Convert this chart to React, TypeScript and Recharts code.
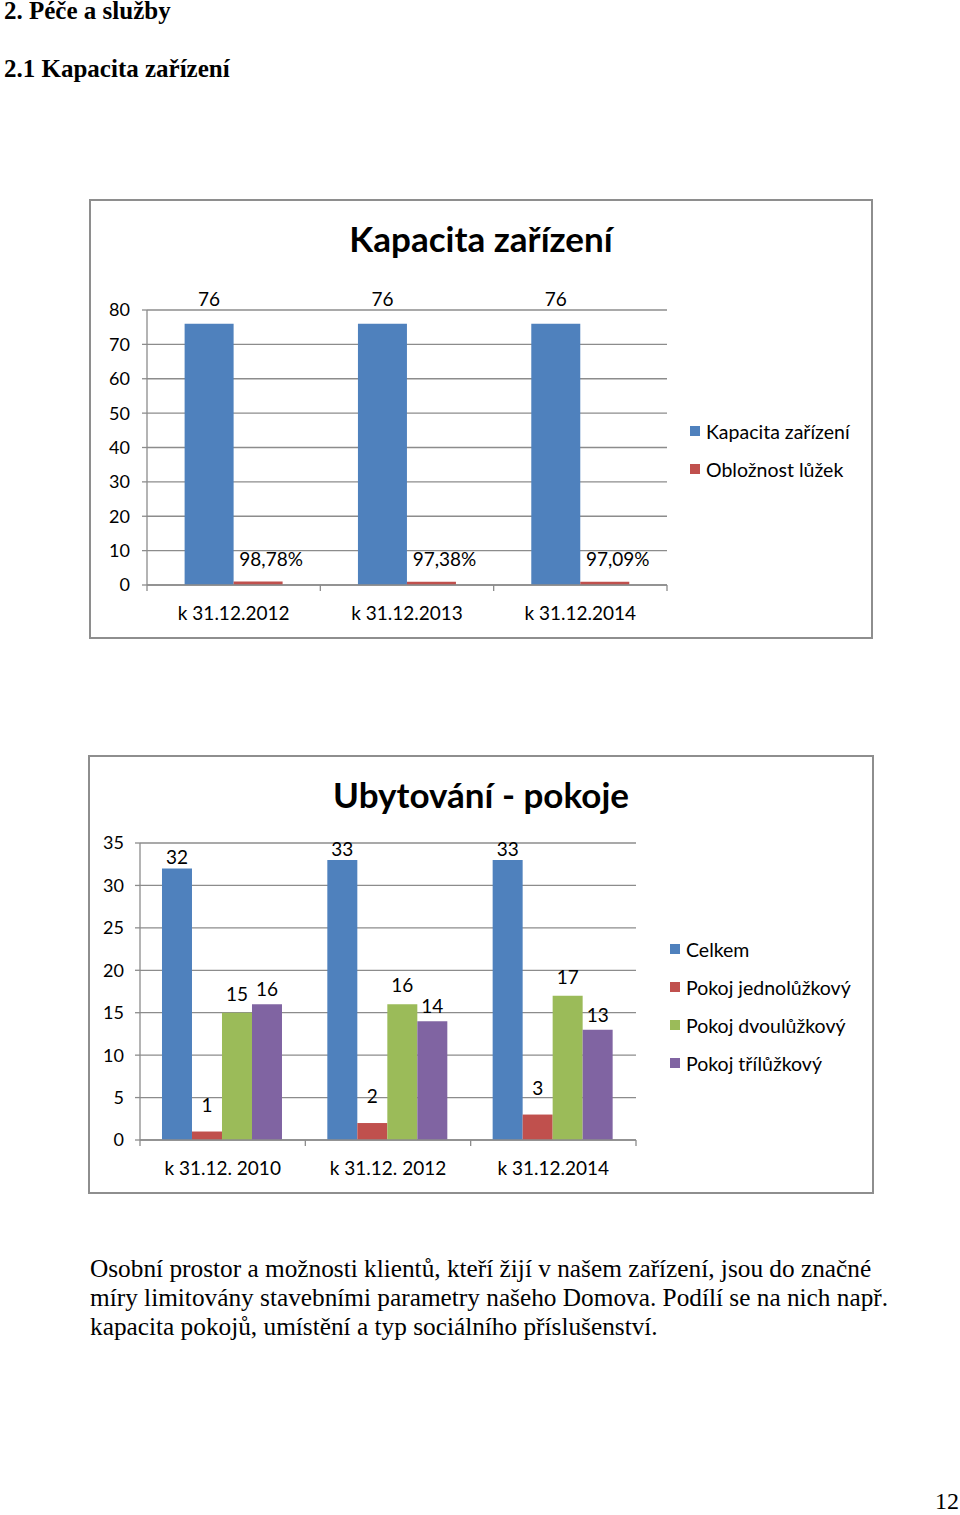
import React from "react";
import {
  BarChart,
  Bar,
  XAxis,
  YAxis,
  CartesianGrid,
  Legend,
  LabelList,
} from "recharts";

// --- Kapacita zařízení ---
const capacityDates = ["k 31.12.2012", "k 31.12.2013", "k 31.12.2014"];
const capacityBeds = [76, 76, 76];
const occupancy = [0.9878, 0.9738, 0.9709];
const capacityTicks = [0, 10, 20, 30, 40, 50, 60, 70, 80];
const capacitySeries = ["Kapacita zařízení", "Obložnost lůžek"];

// --- Ubytování - pokoje ---
const roomDates = ["k 31.12. 2010", "k 31.12. 2012", "k 31.12.2014"];
const roomsTotal = [32, 33, 33];
const roomsSingle = [1, 2, 3];
const roomsDouble = [15, 16, 17];
const roomsTriple = [16, 14, 13];
const roomTicks = [0, 5, 10, 15, 20, 25, 30, 35];
const roomSeries = ["Celkem", "Pokoj jednolůžkový", "Pokoj dvoulůžkový", "Pokoj třílůžkový"];

const capacityData = capacityDates.map((d, i) => ({
  date: d,
  capacity: capacityBeds[i],
  occupancy: occupancy[i],
}));

const roomData = roomDates.map((d, i) => ({
  date: d,
  total: roomsTotal[i],
  single: roomsSingle[i],
  double: roomsDouble[i],
  triple: roomsTriple[i],
}));

const BLUE = "#4f81bd";
const RED = "#c0504d";
const GREEN = "#9bbb59";
const PURPLE = "#8064a2";
const GRID = "#8c8c8c";
const FONT = "Lato, 'Open Sans', sans-serif";
const TXT = "#000";

const pct = (v: any) => (Number(v) * 100).toFixed(2).replace(".", ",") + "%";

// x tick label plus the little marks on the category boundaries
function CatTick(props: any) {
  const { x, y, payload, index, visibleTicksCount } = props;
  const half = payload && payload.offset ? payload.offset : 0;
  const top = y - 8;
  return (
    <g>
      <line x1={x - half} y1={top} x2={x - half} y2={top + 6} stroke={GRID} strokeWidth={1.3} />
      {index === visibleTicksCount - 1 && (
        <line x1={x + half} y1={top} x2={x + half} y2={top + 6} stroke={GRID} strokeWidth={1.3} />
      )}
      <text x={x} y={y + 27} textAnchor="middle" fontSize={19} fill={TXT} fontFamily={FONT}>
        {payload.value}
      </text>
    </g>
  );
}

// legend keeps the series order (recharts sorts by name otherwise)
function SideLegend(props: any) {
  const order: string[] = props.order || [];
  const items = [...(props.payload || [])].sort(
    (a: any, b: any) => order.indexOf(a.value) - order.indexOf(b.value),
  );
  return (
    <div style={{ fontFamily: FONT, fontSize: 19.5, color: TXT }}>
      {items.map((it: any) => (
        <div key={it.value} style={{ height: 38, display: "flex", alignItems: "center", whiteSpace: "nowrap" }}>
          <span style={{ width: 10, height: 10, background: it.color, marginRight: 6, display: "inline-block" }} />
          {it.value}
        </div>
      ))}
    </div>
  );
}

const tickStyle = { fontSize: 18, fill: TXT, fontFamily: FONT };
const labelStyle = { fontSize: 19, fill: TXT, fontFamily: FONT };

function ChartBox({ left, top, width, height, title }: any) {
  return (
    <>
      <div
        style={{
          position: "absolute",
          left: left - 1,
          top: top - 1,
          width: width - 2,
          height: height - 2,
          border: "2px solid #8e8e8e",
        }}
      />
      <div
        style={{
          position: "absolute",
          left,
          top: top + 17,
          width,
          textAlign: "center",
          fontFamily: FONT,
          fontWeight: 700,
          fontSize: 35,
          lineHeight: "42px",
          color: TXT,
        }}
      >
        {title}
      </div>
    </>
  );
}

export default function App() {
  return (
    <div
      style={{
        position: "absolute",
        left: 0,
        top: 0,
        width: 960,
        height: 1515,
        background: "#fff",
        fontFamily: "'Liberation Serif', 'Times New Roman', serif",
        color: TXT,
      }}
    >
      <div style={{ position: "absolute", left: 4, top: -3, fontWeight: 700, fontSize: 25 }}>
        2. Péče a služby
      </div>
      <div style={{ position: "absolute", left: 4, top: 55, fontWeight: 700, fontSize: 25 }}>
        2.1 Kapacita zařízení
      </div>

      {/* chart 1 */}
      <ChartBox left={90} top={200} width={782} height={438} title="Kapacita zařízení" />
      <div style={{ position: "absolute", left: 90, top: 200 }}>
        <BarChart
          width={782}
          height={438}
          data={capacityData}
          margin={{ top: 110, right: 205, bottom: 13, left: 0 }}
          barCategoryGap="21.7%"
          barGap={0}
        >
          <CartesianGrid vertical={false} stroke={GRID} strokeWidth={1.3} />
          <XAxis
            dataKey="date"
            height={40}
            tickLine={false}
            tickSize={6}
            tickMargin={2}
            axisLine={{ stroke: GRID, strokeWidth: 1.3 }}
            tick={<CatTick />}
            interval={0}
          />
          <YAxis
            width={57}
            domain={[0, 80]}
            ticks={capacityTicks}
            interval={0}
            tickSize={5}
            tickMargin={12}
            tick={tickStyle}
            tickLine={{ stroke: GRID, strokeWidth: 1.3 }}
            axisLine={{ stroke: GRID, strokeWidth: 1.3 }}
          />
          <Legend
            layout="horizontal"
            align="center"
            verticalAlign="middle"
            content={<SideLegend order={capacitySeries} />}
            wrapperStyle={{ left: 600, top: 212, width: "auto" }}
          />
          <Bar dataKey="capacity" name={capacitySeries[0]} fill={BLUE} isAnimationActive={false}>
            <LabelList dataKey="capacity" position="top" offset={18} style={labelStyle} />
          </Bar>
          <Bar dataKey="occupancy" name={capacitySeries[1]} fill={RED} isAnimationActive={false}>
            <LabelList
              dataKey="occupancy"
              position="top"
              content={(p: any) => (
                <text
                  x={p.x + p.width / 2 + 13}
                  y={p.y - 16}
                  textAnchor="middle"
                  style={labelStyle}
                >
                  {pct(p.value)}
                </text>
              )}
            />
          </Bar>
        </BarChart>
      </div>

      {/* chart 2 */}
      <ChartBox left={89} top={756} width={784} height={437} title="Ubytování - pokoje" />
      <div style={{ position: "absolute", left: 89, top: 756 }}>
        <BarChart
          width={784}
          height={437}
          data={roomData}
          margin={{ top: 87, right: 237, bottom: 13, left: 0 }}
          barCategoryGap="13.3%"
          barGap={0}
        >
          <CartesianGrid vertical={false} stroke={GRID} strokeWidth={1.3} />
          <XAxis
            dataKey="date"
            height={40}
            tickLine={false}
            tickSize={6}
            tickMargin={2}
            axisLine={{ stroke: GRID, strokeWidth: 1.3 }}
            tick={<CatTick />}
            interval={0}
          />
          <YAxis
            width={51}
            domain={[0, 35]}
            ticks={roomTicks}
            interval={0}
            tickSize={5}
            tickMargin={11}
            tick={tickStyle}
            tickLine={{ stroke: GRID, strokeWidth: 1.3 }}
            axisLine={{ stroke: GRID, strokeWidth: 1.3 }}
          />
          <Legend
            layout="horizontal"
            align="center"
            verticalAlign="middle"
            content={<SideLegend order={roomSeries} />}
            wrapperStyle={{ left: 581, top: 174, width: "auto" }}
          />
          <Bar dataKey="total" name={roomSeries[0]} fill={BLUE} isAnimationActive={false}>
            <LabelList dataKey="total" position="top" offset={4} style={labelStyle} />
          </Bar>
          <Bar dataKey="single" name={roomSeries[1]} fill={RED} isAnimationActive={false}>
            <LabelList dataKey="single" position="top" offset={20} style={labelStyle} />
          </Bar>
          <Bar dataKey="double" name={roomSeries[2]} fill={GREEN} isAnimationActive={false}>
            <LabelList dataKey="double" position="top" offset={12} style={labelStyle} />
          </Bar>
          <Bar dataKey="triple" name={roomSeries[3]} fill={PURPLE} isAnimationActive={false}>
            <LabelList dataKey="triple" position="top" offset={8} style={labelStyle} />
          </Bar>
        </BarChart>
      </div>

      <div style={{ position: "absolute", left: 90, top: 1254, width: 781, fontSize: 25.3, lineHeight: "29px" }}>
        <div style={{ textAlign: "justify", textAlignLast: "justify", whiteSpace: "nowrap" }}>
          Osobní prostor a možnosti klientů, kteří žijí v našem zařízení, jsou do značné
        </div>
        <div style={{ whiteSpace: "nowrap" }}>
          míry limitovány stavebními parametry našeho Domova. Podílí se na nich např.
        </div>
        <div>kapacita pokojů, umístění a typ sociálního příslušenství.</div>
      </div>

      <div style={{ position: "absolute", left: 935, top: 1488, fontSize: 24 }}>12</div>
    </div>
  );
}
